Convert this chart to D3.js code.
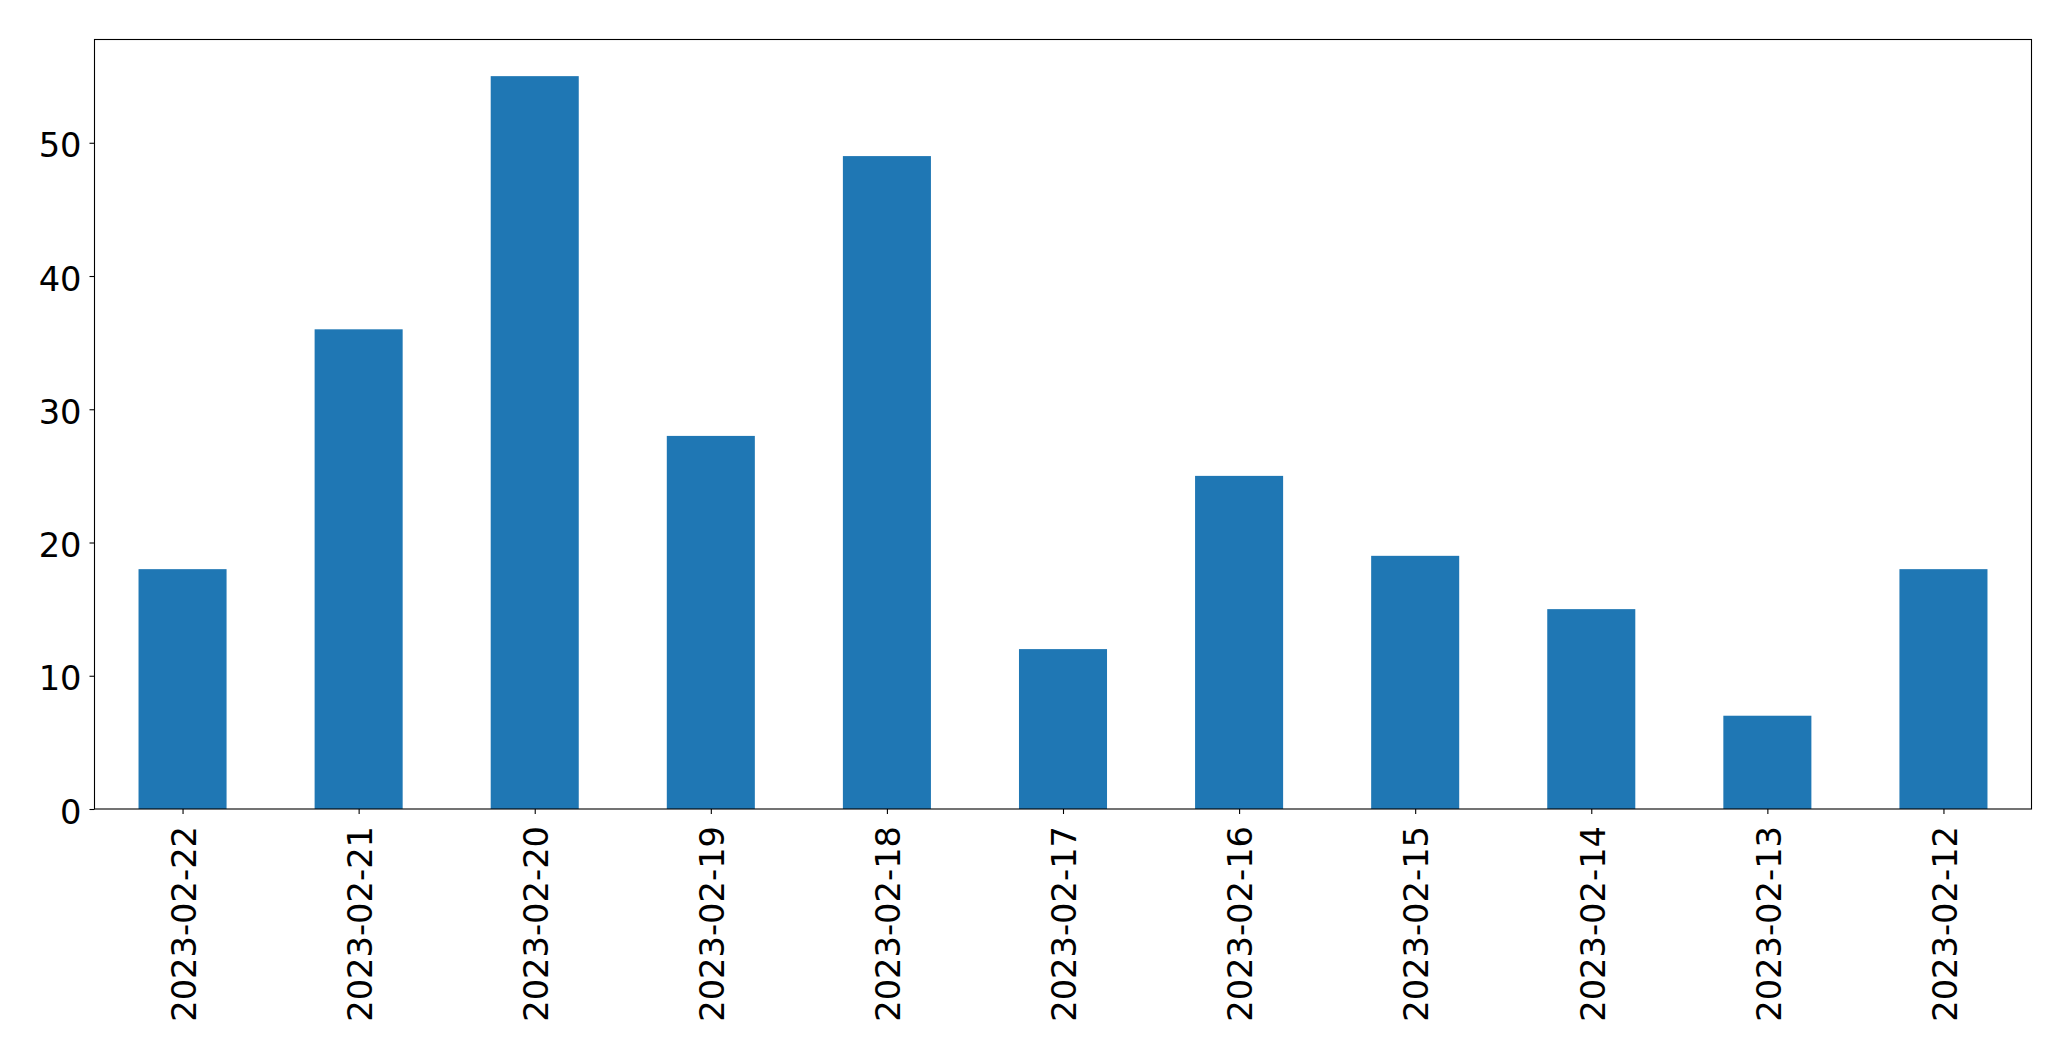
<!DOCTYPE html>
<html>
<head>
<meta charset="utf-8">
<script src="https://cdn.jsdelivr.net/npm/d3@7"></script>
<style>
  html, body { margin: 0; padding: 0; background: #fff; }
  svg { display: block; }
  text { font-family: "DejaVu Sans", sans-serif; fill: #000; }
</style>
</head>
<body>
<script>
const categories = ["2023-02-22","2023-02-21","2023-02-20","2023-02-19","2023-02-18","2023-02-17","2023-02-16","2023-02-15","2023-02-14","2023-02-13","2023-02-12"];
const values = [18, 36, 55, 28, 49, 12, 25, 19, 15, 7, 18];
const yTicks = [0, 10, 20, 30, 40, 50];

(function () {
const W = 2071, H = 1061;
const mLeft = 94.5, mRight = 2031.5, mTop = 39.5, mBottom = 809;
const fontSize = 33.7;

const svg = d3.select("body").append("svg").attr("width", W).attr("height", H);

const x = d3.scaleLinear().domain([-0.5, categories.length - 0.5]).range([mLeft, mRight]);
const y = d3.scaleLinear().domain([0, d3.max(values) * 1.05]).range([mBottom, mTop]);
const barW = (x(1) - x(0)) * 0.5;

svg.append("g").selectAll("rect").data(values).join("rect")
  .attr("x", (d, i) => x(i) - barW / 2)
  .attr("width", barW)
  .attr("y", d => y(d))
  .attr("height", d => y(0) - y(d))
  .attr("fill", "#1f77b4");

// Y axis
const yAxis = d3.axisLeft(y).tickValues(yTicks).tickSize(5).tickPadding(8).tickFormat(d3.format("d"));
const gy = svg.append("g").attr("transform", `translate(${mLeft},0)`).call(yAxis);
gy.select(".domain").remove();
gy.selectAll("line").attr("stroke", "#000").attr("stroke-width", 1.1);
gy.selectAll("text").attr("font-size", fontSize).attr("font-family", "DejaVu Sans").attr("dy", "0.42em").attr("fill", "#000");

// X axis
const xAxis = d3.axisBottom(x).tickValues(d3.range(categories.length)).tickSize(5).tickFormat(i => categories[i]);
const gx = svg.append("g").attr("transform", `translate(0,${mBottom})`).call(xAxis);
gx.select(".domain").remove();
gx.selectAll("line").attr("stroke", "#000").attr("stroke-width", 1.1);
gx.selectAll("text")
  .attr("font-size", fontSize).attr("font-family", "DejaVu Sans").attr("fill", "#000")
  .attr("text-anchor", "end")
  .attr("transform", "translate(0,17) rotate(-90)")
  .attr("x", 0).attr("y", 0).attr("dy", "0.38em");

// Frame
svg.append("rect")
  .attr("x", mLeft).attr("y", mTop)
  .attr("width", mRight - mLeft).attr("height", mBottom - mTop)
  .attr("fill", "none").attr("stroke", "#000").attr("stroke-width", 1.1);
})();
</script>
</body>
</html>
